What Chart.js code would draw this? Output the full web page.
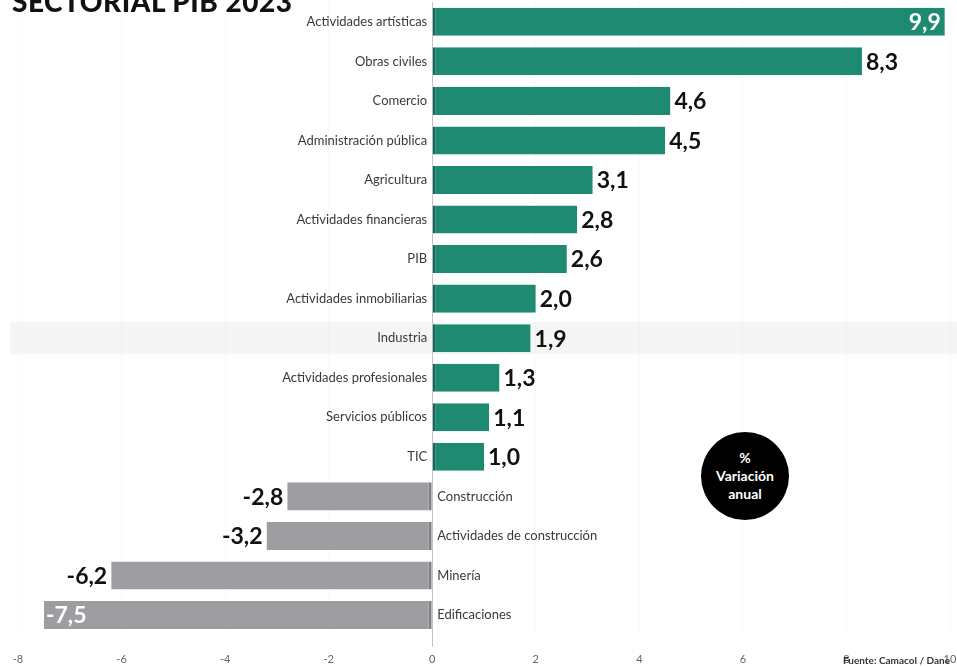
<!DOCTYPE html>
<html>
<head>
<meta charset="utf-8">
<script src="https://cdn.jsdelivr.net/npm/chart.js@4.4.1/dist/chart.umd.min.js"></script>
<style>
  html, body { margin: 0; padding: 0; background: #fff; overflow: hidden; }
  #wrap { position: relative; width: 957px; height: 667px; overflow: hidden; }
  #c { position: absolute; left: 0; top: 0; }
  #title { position: absolute; left: 12px; top: -16px; font: 900 28px Lato, sans-serif; color: #111; letter-spacing: 0.5px; white-space: nowrap; }
  #badge { position: absolute; left: 701px; top: 432px; width: 88px; height: 88px; border-radius: 50%; background: #000;
           color: #fff; font: bold 14px Lato, sans-serif; line-height: 18px; text-align: center; display: flex; flex-direction: column; justify-content: center; }
  #source { position: absolute; left: 843px; top: 654px; font: bold 10px "Liberation Sans Narrow", Lato, sans-serif; color: #333; white-space: nowrap; }
</style>
</head>
<body>
<div id="wrap">
  <canvas id="c" width="957" height="673"></canvas>
  <div id="title">SECTORIAL PIB 2023</div>
  <div id="badge"><div>%</div><div>Variación</div><div>anual</div></div>
  <div id="source">Fuente: Camacol / Dane</div>
</div>
<script>
const categories = ["Actividades artísticas","Obras civiles","Comercio","Administración pública","Agricultura","Actividades financieras","PIB","Actividades inmobiliarias","Industria","Actividades profesionales","Servicios públicos","TIC","Construcción","Actividades de construcción","Minería","Edificaciones"];
const values = [9.9, 8.3, 4.6, 4.5, 3.1, 2.8, 2.6, 2.0, 1.9, 1.3, 1.1, 1.0, -2.8, -3.2, -6.2, -7.5];
const xTicks = [-8, -6, -4, -2, 0, 2, 4, 6, 8, 10];
const highlightCategory = "Industria";

const TEAL = "#1f8a72", TEAL_DARK = "#146a57";
const GREY = "#9e9da2", GREY_DARK = "#808085";
const fmt = v => v.toFixed(1).replace(".", ",");

const bandPlugin = {
  id: "band",
  beforeDraw(chart) {
    const y = chart.scales.y, ctx = chart.ctx;
    const idx = categories.indexOf(highlightCategory);
    if (idx < 0) return;
    const cy = y.getPixelForValue(idx);
    ctx.save();
    ctx.fillStyle = "#f5f5f5";
    ctx.fillRect(10, cy - 16, chart.width - 10, 32);
    ctx.restore();
  }
};

const labelPlugin = {
  id: "labels",
  afterDatasetsDraw(chart) {
    const ctx = chart.ctx, x = chart.scales.x, y = chart.scales.y;
    const x0 = x.getPixelForValue(0);
    const area = chart.chartArea;
    const meta = chart.getDatasetMeta(0);
    ctx.save();
    ctx.textBaseline = "middle";
    categories.forEach((cat, i) => {
      const v = values[i];
      const cy = y.getPixelForValue(i);
      ctx.font = "13px Lato, sans-serif";
      ctx.fillStyle = "#3a3a3a";
      if (v >= 0) { ctx.textAlign = "right"; ctx.fillText(cat, x0 - 5, cy); }
      else { ctx.textAlign = "left"; ctx.fillText(cat, x0 + 5, cy); }
      const bar = meta.data[i];
      const end = bar.x;
      const txt = fmt(v);
      ctx.font = "bold 23px Lato, sans-serif";
      const w = ctx.measureText(txt).width;
      if (v >= 0) {
        if (end + 4 + w > area.right) { ctx.fillStyle = "#fff"; ctx.textAlign = "right"; ctx.fillText(txt, end - 4, cy + 1); }
        else { ctx.fillStyle = "#111"; ctx.textAlign = "left"; ctx.fillText(txt, end + 4, cy + 1); }
      } else {
        if (end - 4 - w < area.left) { ctx.fillStyle = "#fff"; ctx.textAlign = "left"; ctx.fillText(txt, end + 2, cy + 1); }
        else { ctx.fillStyle = "#111"; ctx.textAlign = "right"; ctx.fillText(txt, end - 4, cy + 1); }
      }
    });
    ctx.restore();
  }
};

new Chart(document.getElementById("c"), {
  type: "bar",
  data: {
    labels: categories,
    datasets: [{
      data: values,
      backgroundColor: values.map(v => v >= 0 ? TEAL : GREY),
      borderColor: values.map(v => v >= 0 ? TEAL_DARK : GREY_DARK),
      borderWidth: values.map(v => v >= 0 ? {left: 3, right: 0, top: 0, bottom: 0} : {left: 0, right: 3, top: 0, bottom: 0}),
      borderSkipped: false,
      barPercentage: 0.71,
      categoryPercentage: 1.0
    }]
  },
  options: {
    indexAxis: "y",
    responsive: false,
    animation: false,
    layout: { padding: { left: 18, right: 7, top: 2, bottom: 1 } },
    plugins: { legend: { display: false }, tooltip: { enabled: false } },
    scales: {
      x: {
        type: "linear",
        min: -8, max: 10,
        afterBuildTicks: s => { s.ticks = xTicks.map(v => ({ value: v })); },
        afterFit: s => { s.paddingLeft = 0; s.paddingRight = 0; },
        ticks: { color: "#666", font: { family: "Lato, sans-serif", size: 11 }, padding: 6, callback: v => String(v) },
        grid: {
          color: c => c.tick && c.tick.value === 0 ? "#c4c4c4" : "rgba(0,0,0,0.08)",
          tickColor: c => c.tick && c.tick.value === 0 ? "#c4c4c4" : "rgba(0,0,0,0)",
          tickLength: 12,
          lineWidth: 1
        },
        border: { display: false, dash: c => c.tick && c.tick.value === 0 ? [] : [1, 3] }
      },
      y: { display: false }
    }
  },
  plugins: [bandPlugin, labelPlugin]
});
</script>
</body>
</html>
